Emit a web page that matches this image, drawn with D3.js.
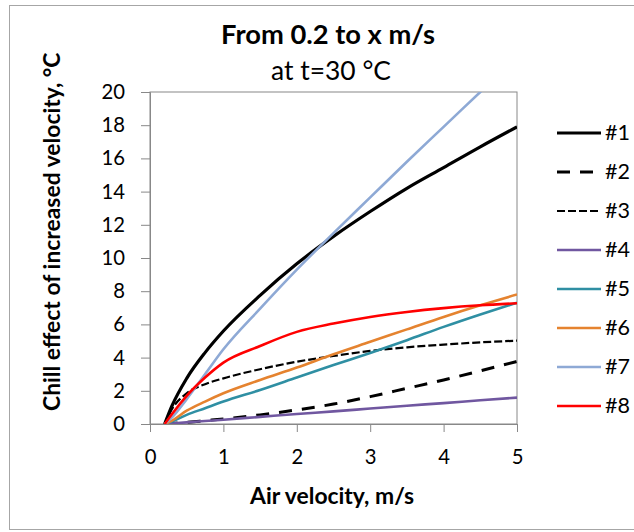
<!DOCTYPE html>
<html>
<head>
<meta charset="utf-8">
<script src="https://cdn.jsdelivr.net/npm/d3@7"></script>
<style>
  body { margin: 0; background: #fff; }
  text { font-family: Lato, "Open Sans", sans-serif; fill: #000; }
</style>
</head>
<body>
<div id="chart"></div>
<script>
// x positions (air velocity, m/s)
var velocity = [0.2, 0.3, 0.5, 0.75, 1, 1.5, 2, 2.5, 3, 3.5, 4, 4.5, 5];

// chill effect, degC, one array per case
var s1 = [0, 1.1, 2.75, 4.3, 5.6, 7.75, 9.65, 11.3, 12.8, 14.2, 15.45, 16.7, 17.9];
var s2 = [0, 0.03, 0.1, 0.2, 0.3, 0.55, 0.85, 1.2, 1.65, 2.15, 2.65, 3.2, 3.77];
var s3 = [0, 0.9, 1.85, 2.4, 2.75, 3.3, 3.75, 4.1, 4.4, 4.62, 4.78, 4.92, 5.02];
var s4 = [0, 0.03, 0.1, 0.18, 0.26, 0.43, 0.6, 0.76, 0.93, 1.1, 1.26, 1.43, 1.59];
var s5 = [0, 0.15, 0.55, 0.95, 1.35, 2.05, 2.8, 3.55, 4.28, 5.05, 5.85, 6.6, 7.31];
var s6 = [0, 0.2, 0.8, 1.35, 1.85, 2.65, 3.4, 4.2, 4.95, 5.7, 6.45, 7.15, 7.8];
var s7 = [0, 0.4, 1.5, 3.0, 4.5, 6.95, 9.3, 11.5, 13.65, 15.8, 17.9, 20.0, 22.1];
var s8 = [0, 0.6, 1.7, 2.8, 3.7, 4.7, 5.55, 6.05, 6.45, 6.75, 6.98, 7.15, 7.27];

var seriesNames = ["#1", "#2", "#3", "#4", "#5", "#6", "#7", "#8"];
var seriesValues = [s1, s2, s3, s4, s5, s6, s7, s8];

var xTicks = [0, 1, 2, 3, 4, 5];
var yTicks = [0, 2, 4, 6, 8, 10, 12, 14, 16, 18, 20];

// line look for each case
var styles = [
  { color: "#000000", width: 3.2, dash: null },
  { color: "#000000", width: 3, dash: "13,10" },
  { color: "#000000", width: 2.2, dash: "8,3" },
  { color: "#7057A0", width: 2.6, dash: null },
  { color: "#2F8FA3", width: 2.6, dash: null },
  { color: "#E5832F", width: 2.6, dash: null },
  { color: "#8EA9D5", width: 2.6, dash: null },
  { color: "#FF0000", width: 2.6, dash: null }
];

var width = 634, height = 532;
var plot = { left: 150, right: 517, top: 92, bottom: 424 };

var svg = d3.select("#chart").append("svg")
  .attr("width", width)
  .attr("height", height);

// scales a text so its length matches the width measured on the picture
function fitSize(str, weight, target) {
  var t = svg.append("text")
    .style("font-size", "20px")
    .style("font-weight", weight)
    .text(str);
  var len = t.node().getComputedTextLength();
  t.remove();
  return 20 * target / len;
}

var titleSize = fitSize("From 0.2 to x m/s", "bold", 214);
var subSize = fitSize("at t=30 °C", "normal", 120);
var axisTitleSize = fitSize("Air velocity, m/s", "bold", 164);
var tickSize = fitSize("20", "normal", 23.5);
var legendSize = fitSize("#2", "normal", 25);

// outer frame (right side runs off the picture)
svg.append("rect")
  .attr("x", 9.5).attr("y", 5.5)
  .attr("width", 640).attr("height", 524)
  .attr("fill", "none")
  .attr("stroke", "#a6a6a6");

var x = d3.scaleLinear().domain([0, 5]).range([plot.left, plot.right]);
var y = d3.scaleLinear().domain([0, 20]).range([plot.bottom, plot.top]);

// titles
svg.append("text")
  .attr("x", 328).attr("y", 44)
  .attr("text-anchor", "middle")
  .style("font-size", titleSize + "px").style("font-weight", "bold")
  .text("From 0.2 to x m/s");
svg.append("text")
  .attr("x", 331).attr("y", 80)
  .attr("text-anchor", "middle")
  .style("font-size", subSize + "px")
  .text("at t=30 °C");

// plot frame
svg.append("rect")
  .attr("x", plot.left).attr("y", plot.top)
  .attr("width", plot.right - plot.left)
  .attr("height", plot.bottom - plot.top)
  .attr("fill", "none")
  .attr("stroke", "#888");

// axes
var xAxis = svg.append("g")
  .attr("transform", "translate(0," + plot.bottom + ")")
  .call(d3.axisBottom(x).tickValues(xTicks).tickFormat(d3.format("d"))
    .tickSize(8).tickPadding(18));
var yAxis = svg.append("g")
  .attr("transform", "translate(" + plot.left + ",0)")
  .call(d3.axisLeft(y).tickValues(yTicks).tickFormat(d3.format("d"))
    .tickSize(9).tickPadding(16));

[xAxis, yAxis].forEach(function (ax) {
  ax.select(".domain").attr("stroke", "#888");
  ax.selectAll(".tick line").attr("stroke", "#888");
  ax.selectAll(".tick text")
    .style("font-size", tickSize + "px")
    .style("font-family", "Lato, sans-serif")
    .attr("fill", "#000");
});

svg.append("text")
  .attr("x", 332).attr("y", 504)
  .attr("text-anchor", "middle")
  .style("font-size", axisTitleSize + "px").style("font-weight", "bold")
  .text("Air velocity, m/s");

svg.append("text")
  .attr("transform", "translate(60,411) rotate(-90)")
  .attr("text-anchor", "start")
  .style("font-size", axisTitleSize + "px").style("font-weight", "bold")
  .text("Chill effect of increased velocity, °C");

// clip lines to the plot area
svg.append("clipPath").attr("id", "plotclip")
  .append("rect")
  .attr("x", plot.left).attr("y", plot.top)
  .attr("width", plot.right - plot.left)
  .attr("height", plot.bottom - plot.top);

var line = d3.line()
  .x(function (d, i) { return x(velocity[i]); })
  .y(function (d) { return y(d); })
  .curve(d3.curveMonotoneX);

svg.append("g")
  .attr("clip-path", "url(#plotclip)")
  .selectAll("path")
  .data(seriesValues)
  .enter()
  .append("path")
  .attr("d", line)
  .attr("fill", "none")
  .attr("stroke", function (d, i) { return styles[i].color; })
  .attr("stroke-width", function (d, i) { return styles[i].width; })
  .attr("stroke-dasharray", function (d, i) { return styles[i].dash; });

// legend
var legend = svg.append("g").selectAll("g")
  .data(seriesNames)
  .enter()
  .append("g")
  .attr("transform", function (d, i) { return "translate(557," + (133 + i * 39) + ")"; });

legend.append("line")
  .attr("x1", 0).attr("x2", 44)
  .attr("stroke", function (d, i) { return styles[i].color; })
  .attr("stroke-width", function (d, i) { return styles[i].width; })
  .attr("stroke-dasharray", function (d, i) { return styles[i].dash; });

legend.append("text")
  .attr("x", 48).attr("y", 7)
  .style("font-size", legendSize + "px")
  .text(function (d) { return d; });
</script>
</body>
</html>
